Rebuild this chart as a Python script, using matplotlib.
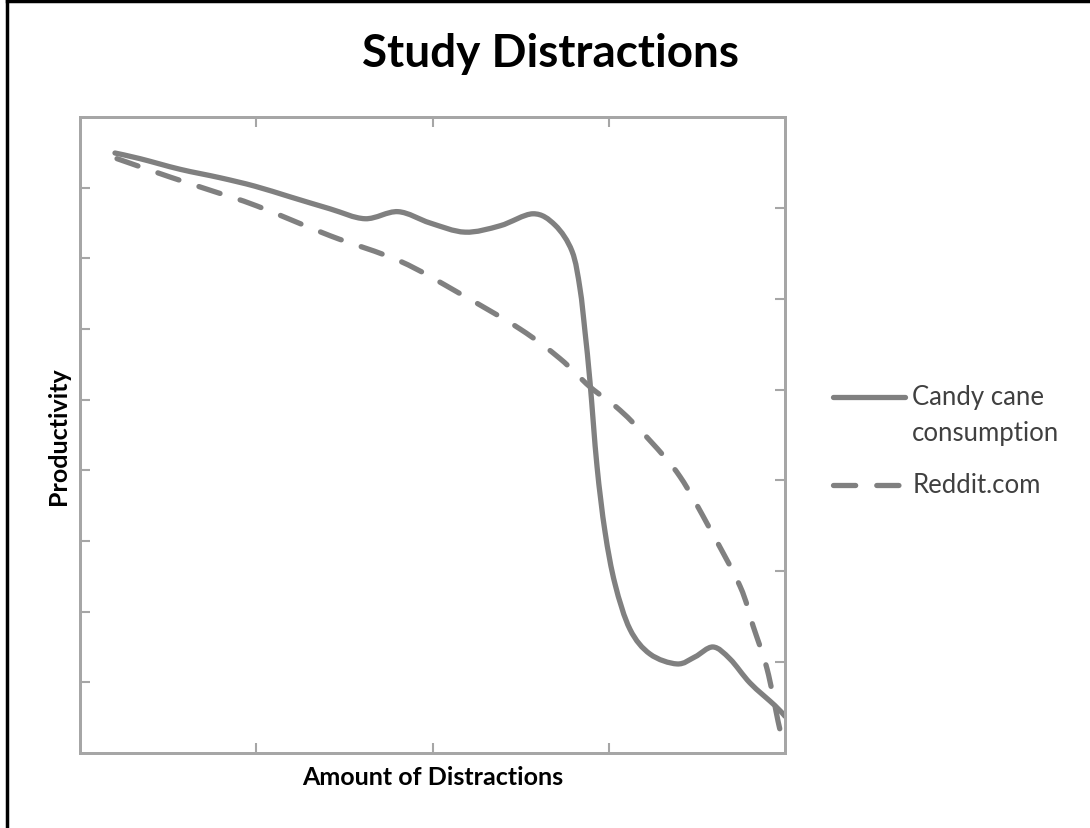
import matplotlib
matplotlib.use("Agg")
import matplotlib.pyplot as plt
from matplotlib.lines import Line2D
from matplotlib.path import Path
from matplotlib.patches import PathPatch

# values (x: 0-100, y: 0-9)
candy_x = [4.96, 8.51, 14.18, 19.86, 24.82, 29.79, 35.46, 40.43, 45.11, 49.65,
           54.61, 59.57, 64.26, 67.38, 69.79, 70.92, 71.63, 72.34, 73.33, 74.47,
           75.89, 78.01, 80.85, 84.68, 87.23, 89.79, 92.20, 95.04, 98.58, 100.0]
candy_y = [8.49, 8.41, 8.26, 8.14, 8.02, 7.87, 7.70, 7.56, 7.66, 7.50,
           7.37, 7.46, 7.63, 7.47, 7.10, 6.57, 5.96, 5.25, 4.06, 3.13,
           2.39, 1.75, 1.40, 1.26, 1.36, 1.50, 1.33, 0.99, 0.67, 0.52]

reddit_x = [5.25, 12.77, 18.87, 25.11, 35.46, 45.39, 53.90, 62.41, 68.09, 72.34,
            76.60, 80.85, 85.11, 89.36, 93.62, 95.46, 97.45, 99.01, 99.43]
reddit_y = [8.41, 8.15, 7.95, 7.74, 7.32, 6.96, 6.50, 6.00, 5.58, 5.18,
            4.85, 4.42, 3.91, 3.17, 2.36, 1.80, 1.19, 0.45, 0.27]

x_ticks = [25, 50, 75]
left_ticks = [1, 2, 3, 4, 5, 6, 7, 8]
right_ticks = [1, 2, 3, 4, 5, 6]

line_col = "#808080"
spine_col = "#a6a6a6"
text_col = "#404040"
font = "Lato"
dash = (4.2, 4.0)


def smooth_path(xs, ys):
    # catmull-rom through the read points, as bezier segments
    n = len(xs)
    verts = [(xs[0], ys[0])]
    codes = [Path.MOVETO]
    for i in range(n - 1):
        a = max(i - 1, 0)
        b = min(i + 2, n - 1)
        c1 = (xs[i] + (xs[i + 1] - xs[a]) / 6, ys[i] + (ys[i + 1] - ys[a]) / 6)
        c2 = (xs[i + 1] - (xs[b] - xs[i]) / 6, ys[i + 1] - (ys[b] - ys[i]) / 6)
        verts += [c1, c2, (xs[i + 1], ys[i + 1])]
        codes += [Path.CURVE4] * 3
    return Path(verts, codes)


fig = plt.figure(figsize=(10.9, 8.29), dpi=100)
ax = fig.add_axes([0.0734, 0.0905, 0.6468, 0.7672])

ax.add_patch(PathPatch(smooth_path(candy_x, candy_y), fill=False,
                       edgecolor=line_col, lw=3.8, capstyle="round",
                       joinstyle="round"))
ax.add_patch(PathPatch(smooth_path(reddit_x, reddit_y), fill=False,
                       edgecolor=line_col, lw=3.8, linestyle=(0, dash),
                       capstyle="round"))

ax.set_xlim(0, 100)
ax.set_ylim(0, 9)
ax.set_xticks(x_ticks)
ax.set_yticks(left_ticks)
ax.set_xticklabels([])
ax.set_yticklabels([])
ax.tick_params(direction="in", length=7, width=1.5, color=spine_col, top=True)

ax2 = ax.twinx()
ax2.set_ylim(0, 7)
ax2.set_yticks(right_ticks)
ax2.set_yticklabels([])
ax2.tick_params(direction="in", length=7, width=1.5, color=spine_col)

for a in (ax, ax2):
    for s in a.spines.values():
        s.set_color(spine_col)
        s.set_linewidth(2)

ax.set_xlabel("Amount of Distractions", fontsize=18, fontweight="bold",
              family=font, labelpad=5)
ax.set_ylabel("Productivity", fontsize=18, fontweight="bold", family=font,
              labelpad=4)
fig.text(0.505, 0.935, "Study Distractions", ha="center", va="center",
         fontsize=33, fontweight="bold", family=font)

# legend drawn by hand so the handle sits on the first text line
fig.add_artist(Line2D([0.764, 0.830], [0.520, 0.520], color=line_col, lw=3.8,
                      solid_capstyle="round"))
fig.text(0.837, 0.520, "Candy cane", va="center", fontsize=18.5, family=font,
         color=text_col)
fig.text(0.837, 0.477, "consumption", va="center", fontsize=18.5, family=font,
         color=text_col)
fig.add_artist(Line2D([0.764, 0.830], [0.414, 0.414], color=line_col, lw=3.8,
                      dashes=dash, dash_capstyle="round"))
fig.text(0.837, 0.414, "Reddit.com", va="center", fontsize=18.5, family=font,
         color=text_col)

# black frame on left and top
fig.add_artist(Line2D([0.006, 0.006], [0.0, 1.0], color="black", lw=2.5))
fig.add_artist(Line2D([0.006, 1.0], [0.998, 0.998], color="black", lw=2.5))

fig.savefig("out.png", dpi=100)
